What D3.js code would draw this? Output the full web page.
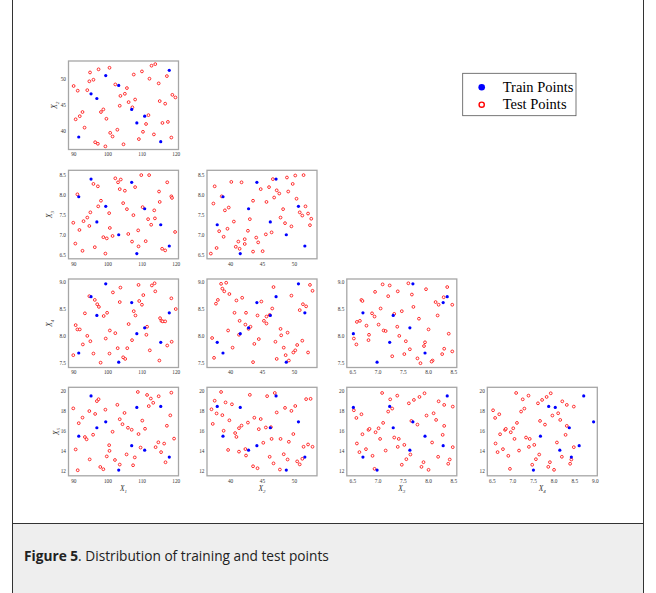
<!DOCTYPE html>
<html lang="en">
  <head>
    <meta charset="utf-8" />
    <title>Figure 5</title>
    <script src="https://d3js.org/d3.v7.min.js"></script>
    <style>
      body {
        margin: 0;
        background: #fff;
      }

      .tick text {
        font-family: "Liberation Serif", serif;
        font-size: 5.3px;
        fill: #333;
      }

      .frame {
        fill: none;
        stroke: #a6a6a6;
        stroke-width: 1.3;
      }

      .axis-label {
        font-family: "Liberation Serif", serif;
        font-style: italic;
        font-size: 7.5px;
        fill: #333;
      }

      .legend-text {
        font-family: "Liberation Serif", serif;
        font-size: 14.5px;
      }

      .caption {
        font-family: "Open Sans", sans-serif;
        font-size: 13.7px;
        fill: #222;
      }
    </style>
  </head>

  <body>
    <svg id="figure" width="656" height="593"></svg>
    <script>
      // variables and tick labels
      const varNames = ["X1", "X2", "X3", "X4", "X5"];
      const ticksX1 = [90, 100, 110, 120];
      const ticksX2 = [40, 45, 50];
      const ticksX3 = [6.5, 7.0, 7.5, 8.0, 8.5];
      const ticksX4 = [7.5, 8.0, 8.5, 9.0];
      const ticksX4Bottom = [6.5, 7.0, 7.5, 8.0, 8.5, 9.0];
      const ticksX5 = [12, 14, 16, 18, 20];

      // training points (same points in every panel)
      const trainX1 = [91.6, 95.2, 96.9, 99.5, 103.3, 107.1, 108.6, 110.9, 115.6, 118.1];
      const trainX2 = [38.9, 47.2, 46.3, 50.7, 48.8, 44.2, 41.6, 42.9, 38.0, 51.7];
      const trainX3 = [7.94, 8.38, 7.31, 7.7, 6.99, 8.3, 6.52, 7.64, 7.24, 6.71];
      const trainX4 = [7.68, 8.73, 8.38, 8.97, 7.51, 8.62, 8.04, 8.15, 7.88, 8.43];
      const trainX5 = [15.45, 19.5, 16.3, 16.9, 12.05, 14.5, 18.35, 14.05, 18.45, 13.35];

      // test points, read panel by panel as [x, y]
      const testX1X2 = [
        [100.6, 52.2], [114.0, 52.9], [112.9, 52.6], [97.4, 51.9], [94.9, 51.3], [110.1, 51.5],
        [107.7, 50.9], [117.4, 50.6], [112.3, 50.1], [95.9, 49.9], [94.7, 49.6], [90.1, 48.7],
        [102.3, 49.0], [105.7, 48.3], [91.3, 47.8], [94.1, 47.9], [115.0, 49.2], [105.1, 47.2],
        [103.8, 46.8], [119.0, 47.0], [119.9, 46.5], [108.1, 46.1], [106.2, 45.6], [115.3, 45.8],
        [116.9, 45.3], [103.6, 44.9], [98.8, 44.2], [107.3, 44.6], [92.7, 43.7], [98.1, 43.7],
        [91.9, 42.9], [90.7, 42.3], [99.7, 42.4], [112.0, 43.1], [111.3, 41.4], [116.1, 41.6],
        [117.7, 41.8], [93.3, 40.7], [102.9, 40.3], [100.8, 39.7], [110.4, 39.9], [101.5, 39.0],
        [113.6, 39.4], [109.2, 38.5], [118.7, 38.8], [96.4, 37.9], [97.2, 37.6], [104.7, 37.5],
        [99.4, 37.1]
      ];
      const testX1X3 = [
        [102.3, 8.4], [103.9, 8.37], [103.1, 8.3], [109.9, 8.48], [112.2, 8.48], [95.9, 8.26],
        [97.2, 8.2], [103.6, 8.13], [105.1, 8.09], [108.1, 8.18], [117.5, 8.3], [91.2, 8.0],
        [115.1, 8.07], [118.7, 7.95], [118.9, 7.91], [98.1, 7.84], [104.6, 7.78], [115.3, 7.81],
        [97.3, 7.7], [110.3, 7.68], [105.7, 7.63], [113.7, 7.6], [95.0, 7.55], [100.5, 7.53],
        [107.6, 7.48], [94.1, 7.42], [93.0, 7.33], [111.9, 7.38], [113.9, 7.4], [90.0, 7.29],
        [94.7, 7.21], [100.7, 7.16], [112.8, 7.24], [91.8, 7.11], [119.8, 7.06], [109.0, 7.1],
        [106.1, 7.01], [101.5, 6.96], [98.8, 6.93], [99.8, 6.9], [90.6, 6.77], [107.2, 6.82],
        [111.2, 6.83], [96.3, 6.68], [109.1, 6.7], [92.7, 6.59], [116.0, 6.64], [116.9, 6.6],
        [99.4, 6.52]
      ];
      const testX2X3 = [
        [37.6, 8.2], [40.2, 8.31], [41.8, 8.3], [38.7, 7.95], [37.4, 7.77], [39.8, 7.67],
        [39.2, 7.6], [46.7, 8.38], [48.9, 8.42], [50.2, 8.47], [51.5, 8.48], [49.8, 8.26],
        [44.8, 8.13], [46.1, 8.18], [47.3, 8.1], [49.1, 8.07], [47.7, 8.02], [46.9, 7.92],
        [43.6, 7.84], [45.7, 7.81], [48.3, 7.63], [50.4, 7.89], [51.8, 7.7], [50.9, 7.55],
        [51.3, 7.47], [52.2, 7.52], [52.7, 7.39], [52.5, 7.23], [40.6, 7.32], [43.1, 7.38],
        [39.6, 7.14], [38.3, 7.08], [39.0, 6.94], [42.8, 7.09], [47.9, 7.42], [48.6, 7.28],
        [49.6, 7.2], [45.6, 7.0], [46.5, 7.05], [44.1, 6.92], [44.4, 6.8], [42.3, 6.88],
        [42.3, 6.76], [41.3, 6.82], [40.9, 6.69], [41.5, 6.64], [37.9, 6.66], [37.0, 6.52],
        [43.6, 6.57], [45.1, 6.58]
      ];
      const testX1X4 = [
        [109.1, 8.95], [113.0, 8.94], [113.8, 8.98], [114.0, 8.83], [101.6, 8.81], [103.8, 8.9],
        [94.7, 8.74], [96.3, 8.67], [97.0, 8.59], [97.5, 8.54], [110.5, 8.76], [103.6, 8.63],
        [109.3, 8.65], [110.1, 8.58], [118.7, 8.7], [120.0, 8.5], [93.4, 8.42], [98.9, 8.37],
        [99.9, 8.43], [107.7, 8.46], [108.2, 8.38], [115.4, 8.33], [115.8, 8.28], [116.2, 8.27],
        [116.9, 8.27], [106.2, 8.22], [90.7, 8.2], [91.2, 8.12], [91.9, 8.12], [100.7, 8.1],
        [102.3, 8.05], [111.6, 8.17], [111.4, 8.02], [94.1, 8.0], [95.0, 7.9], [92.8, 7.84],
        [99.5, 7.95], [107.2, 7.92], [103.0, 7.77], [105.8, 7.77], [112.4, 7.73], [117.5, 7.82],
        [118.8, 7.89], [95.9, 7.67], [100.6, 7.67], [104.6, 7.6], [105.2, 7.57], [90.0, 7.64],
        [98.0, 7.5], [115.2, 7.54]
      ];
      const testX2X4 = [
        [38.6, 8.97], [39.4, 8.99], [38.8, 8.88], [39.1, 8.83], [38.1, 8.67], [37.8, 8.6],
        [39.9, 8.78], [41.0, 8.66], [41.9, 8.71], [46.8, 8.91], [44.9, 8.64], [49.6, 8.75],
        [52.5, 8.95], [52.9, 8.84], [51.4, 8.59], [51.9, 8.55], [50.9, 8.48], [46.6, 8.51],
        [40.7, 8.43], [42.5, 8.43], [44.3, 8.38], [45.7, 8.36], [46.2, 8.39], [45.3, 8.28],
        [45.7, 8.23], [41.5, 8.28], [42.4, 8.21], [42.9, 8.13], [43.2, 8.17], [39.7, 8.1],
        [41.4, 8.02], [37.2, 7.96], [47.9, 8.13], [48.0, 8.01], [49.0, 8.06], [44.5, 7.94],
        [43.8, 7.85], [47.1, 7.89], [51.3, 7.91], [50.5, 7.83], [50.2, 7.73], [49.9, 7.69],
        [40.4, 7.78], [48.4, 7.78], [48.7, 7.64], [52.2, 7.69], [37.5, 7.59], [47.3, 7.57],
        [49.2, 7.54], [43.6, 7.51]
      ];
      const testX3X4 = [
        [7.1, 8.96], [7.24, 8.94], [7.61, 8.98], [6.95, 8.82], [7.21, 8.74], [7.4, 8.83],
        [7.68, 8.77], [7.96, 8.87], [8.38, 8.91], [6.68, 8.67], [6.7, 8.65], [7.71, 8.54],
        [7.06, 8.51], [7.48, 8.46], [8.15, 8.63], [8.21, 8.58], [8.31, 8.72], [8.48, 8.58],
        [6.89, 8.42], [6.94, 8.36], [7.33, 8.41], [6.59, 8.26], [6.65, 8.28], [7.82, 8.32],
        [8.19, 8.38], [7.02, 8.21], [6.78, 8.19], [7.12, 8.1], [7.16, 8.09], [7.39, 8.17],
        [8.01, 8.12], [6.83, 8.02], [6.82, 7.92], [6.53, 7.95], [6.58, 7.84], [7.43, 8.0],
        [8.41, 8.04], [7.56, 7.9], [7.94, 7.88], [7.92, 7.81], [7.64, 7.75], [7.53, 7.66],
        [8.32, 7.76], [8.28, 7.66], [8.48, 7.71], [7.29, 7.62], [7.79, 7.58], [7.85, 7.49],
        [8.09, 7.54], [8.07, 7.52]
      ];
      const testX1X5 = [
        [108.9, 19.9], [111.6, 19.6], [112.7, 19.24], [115.0, 19.47], [113.4, 18.81], [112.1, 18.48],
        [118.7, 19.83], [97.4, 19.17], [96.9, 18.98], [102.9, 18.61], [90.0, 18.25], [94.7, 17.98],
        [99.4, 18.12], [96.4, 17.69], [105.0, 17.79], [92.7, 17.32], [91.6, 16.76], [103.6, 17.16],
        [104.4, 16.66], [110.2, 17.02], [111.0, 16.2], [106.0, 16.3], [107.1, 16.1], [118.4, 17.55],
        [117.4, 16.5], [101.5, 15.9], [95.8, 15.6], [109.1, 15.67], [93.4, 15.37], [93.9, 15.14],
        [116.6, 14.71], [114.9, 14.84], [114.1, 14.35], [119.5, 15.21], [100.5, 14.55], [100.6, 13.98],
        [109.7, 14.31], [90.7, 14.12], [105.6, 13.62], [108.0, 13.32], [99.8, 13.42], [115.7, 13.85],
        [102.2, 13.06], [94.8, 13.12], [103.6, 12.6], [117.0, 12.83], [107.5, 12.53], [97.9, 12.36],
        [98.8, 12.13], [91.3, 12.03]
      ];
      const testX2X5 = [
        [38.6, 19.9], [37.6, 19.02], [39.3, 18.85], [40.3, 18.66], [37.1, 18.16], [37.9, 17.74],
        [38.8, 17.57], [43.1, 19.61], [45.8, 19.48], [47.0, 19.8], [39.9, 17.05], [37.3, 16.69],
        [41.8, 16.52], [41.4, 16.26], [42.8, 16.82], [43.8, 17.31], [44.8, 17.18], [39.0, 16.0],
        [40.8, 15.77], [41.0, 15.38], [44.5, 16.16], [45.6, 16.33], [46.4, 16.36], [47.3, 17.84],
        [48.6, 18.3], [49.6, 18.0], [50.2, 18.49], [51.9, 19.18], [52.6, 19.21], [49.9, 15.67],
        [45.2, 14.79], [46.5, 15.18], [47.9, 15.18], [49.2, 14.89], [39.7, 14.07], [41.4, 13.9],
        [42.4, 14.16], [42.5, 13.51], [51.5, 14.39], [52.2, 14.62], [52.9, 14.39], [46.2, 13.38],
        [46.8, 12.72], [48.4, 13.64], [49.0, 13.11], [50.5, 12.92], [50.9, 12.62], [51.3, 13.18],
        [43.6, 12.43], [44.3, 12.23], [47.8, 12.1]
      ];
      const testX3X5 = [
        [7.09, 19.8], [7.39, 19.53], [7.25, 19.16], [7.62, 18.76], [7.72, 19.1], [7.83, 19.4],
        [7.93, 19.77], [8.21, 18.96], [8.32, 18.6], [8.49, 18.43], [6.53, 18.06], [6.58, 17.29],
        [6.68, 17.66], [7.21, 17.93], [7.29, 18.23], [7.11, 16.79], [7.97, 17.53], [8.11, 17.76],
        [8.16, 17.09], [7.67, 16.99], [7.79, 16.62], [6.82, 16.09], [6.84, 16.19], [6.96, 15.85],
        [7.02, 16.25], [6.7, 15.65], [8.32, 16.49], [8.29, 15.59], [7.33, 15.32], [7.05, 15.18],
        [7.42, 15.18], [6.59, 14.72], [7.53, 14.58], [7.4, 14.38], [8.08, 14.82], [8.49, 14.35],
        [6.64, 13.85], [6.77, 14.15], [7.16, 14.01], [6.9, 13.48], [7.65, 13.61], [7.57, 13.14],
        [7.48, 12.58], [8.2, 13.38], [8.43, 13.11], [8.4, 12.68], [7.91, 12.84], [7.87, 12.37],
        [8.01, 12.07], [6.94, 12.17]
      ];

      const legendLabels = ["Train Points", "Test Points"];
      const captionBold = "Figure 5";
      const captionRest = ". Distribution of training and test points";

      const svg = d3.select("svg#figure");

      // page box + caption strip
      svg.append("rect").attr("x", 13).attr("y", 524).attr("width", 630).attr("height", 69).attr("fill", "#eeeeee");
      svg.append("line").attr("x1", 12.5).attr("x2", 12.5).attr("y1", 0).attr("y2", 593).attr("stroke", "#333");
      svg.append("line").attr("x1", 643.5).attr("x2", 643.5).attr("y1", 0).attr("y2", 593).attr("stroke", "#333");
      svg.append("line").attr("x1", 12.5).attr("x2", 643.5).attr("y1", 523.5).attr("y2", 523.5).attr("stroke", "#333");

      const caption = svg.append("text").attr("class", "caption").attr("x", 24).attr("y", 561);
      caption.append("tspan").attr("font-weight", "bold").text(captionBold);
      caption.append("tspan").text(captionRest);

      // grid layout
      const colX = [68.5, 207, 346.8, 487.3];
      const rowY = [61, 170.3, 279, 387.3];
      const panelW = 110;
      const panelH = 88.5;

      const xDomains = [[88.6, 120.8], [36.4, 53.6], [6.39, 8.57], [6.39, 9.06]];
      const yDomains = [[36.5, 53.5], [6.39, 8.6], [7.41, 9.06], [11.47, 20.37]];
      const xTicks = [ticksX1, ticksX2, ticksX3, ticksX4Bottom];
      const yTicks = [ticksX2, ticksX3, ticksX4, ticksX5];
      const xFormats = [d3.format("d"), d3.format("d"), d3.format(".1f"), d3.format(".1f")];
      const yFormats = [d3.format("d"), d3.format(".1f"), d3.format(".1f"), d3.format("d")];
      const yLabelOffset = [11.5, 16.5, 16.5, 10];

      const train = [trainX1, trainX2, trainX3, trainX4, trainX5];
      const testByPanel = {
        "0-0": testX1X2,
        "0-1": testX1X3,
        "1-1": testX2X3,
        "0-2": testX1X4,
        "1-2": testX2X4,
        "2-2": testX3X4,
        "0-3": testX1X5,
        "1-3": testX2X5,
        "2-3": testX3X5,
        // the original figure draws the X3 test values in the X4 panel
        "3-3": testX3X5,
      };

      function subLabel(sel, name) {
        sel.append("tspan").text(name[0]);
        sel.append("tspan").attr("font-size", "5px").attr("dy", "1.5").text(name.slice(1));
      }

      for (let r = 0; r < 4; r++) {
        for (let c = 0; c <= r; c++) {
          const g = svg.append("g").attr("transform", `translate(${colX[c]},${rowY[r]})`);

          const xScale = d3.scaleLinear().domain(xDomains[c]).range([0, panelW]);
          const yScale = d3.scaleLinear().domain(yDomains[r]).range([panelH, 0]);

          g.append("g")
            .attr("transform", `translate(0,${panelH})`)
            .call(d3.axisBottom(xScale).tickValues(xTicks[c]).tickFormat(xFormats[c]).tickSize(0).tickPadding(3))
            .call((a) => a.select(".domain").remove());

          g.append("g")
            .call(d3.axisLeft(yScale).tickValues(yTicks[r]).tickFormat(yFormats[r]).tickSize(0).tickPadding(2.5))
            .call((a) => a.select(".domain").remove());

          // test points
          g.selectAll("circle.test")
            .data(testByPanel[`${c}-${r}`])
            .join("circle")
            .attr("class", "test")
            .attr("cx", (d) => xScale(d[0]))
            .attr("cy", (d) => yScale(d[1]))
            .attr("r", 1.4)
            .attr("fill", "#fff")
            .attr("stroke", "#ff0000")
            .attr("stroke-width", 0.8);

          // train points
          const xs = train[c];
          const ys = train[r + 1];
          g.selectAll("circle.train")
            .data(d3.range(xs.length))
            .join("circle")
            .attr("class", "train")
            .attr("cx", (i) => xScale(xs[i]))
            .attr("cy", (i) => yScale(ys[i]))
            .attr("r", 1.6)
            .attr("fill", "#0000ff");

          g.append("rect").attr("class", "frame").attr("width", panelW).attr("height", panelH);

          if (c === 0) {
            const yl = g.append("text")
              .attr("class", "axis-label")
              .attr("text-anchor", "middle")
              .attr("transform", `translate(${-yLabelOffset[r]},${panelH / 2}) rotate(-90)`);
            subLabel(yl, varNames[r + 1]);
          }
          if (r === 3) {
            const xl = g.append("text")
              .attr("class", "axis-label")
              .attr("text-anchor", "middle")
              .attr("x", panelW / 2)
              .attr("y", panelH + 15.5);
            subLabel(xl, varNames[c]);
          }
        }
      }

      // legend
      const legend = svg.append("g").attr("transform", "translate(462.7,73.3)");
      legend.append("rect")
        .attr("width", 113.3)
        .attr("height", 42.4)
        .attr("fill", "#fff")
        .attr("stroke", "#555")
        .attr("stroke-width", 0.8);
      legend.append("circle").attr("cx", 19).attr("cy", 14).attr("r", 3.3).attr("fill", "#0000ff");
      legend.append("circle").attr("cx", 19).attr("cy", 31.4).attr("r", 2.6)
        .attr("fill", "#fff").attr("stroke", "#ff0000").attr("stroke-width", 1.4);
      legendLabels.forEach((label, i) => {
        legend.append("text")
          .attr("class", "legend-text")
          .attr("x", 40)
          .attr("y", 18.5 + i * 17.4)
          .text(label);
      });
    </script>
  </body>
</html>
